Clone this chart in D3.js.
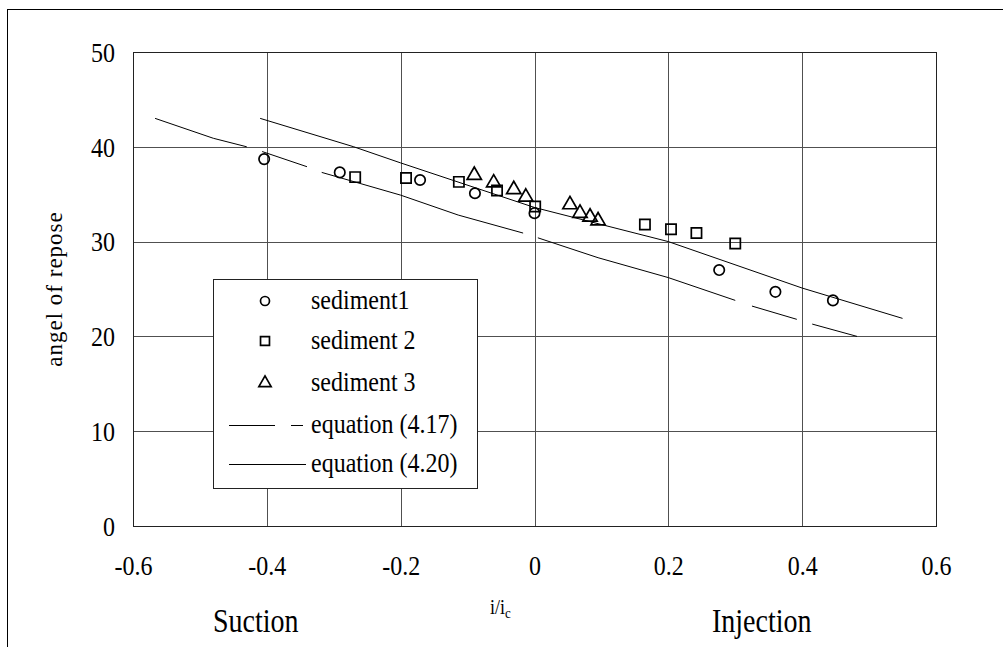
<!DOCTYPE html>
<html><head><meta charset="utf-8">
<script src="https://cdn.jsdelivr.net/npm/d3@7"></script>
<style>
body{margin:0;background:#fff}
svg{display:block}
text{font-family:"Liberation Serif","Times New Roman",serif;fill:#000}
</style>
</head><body><svg id="c" width="1003" height="647"></svg>
<script>
// ---- data ----
const sed1X = [-0.404, -0.291, -0.171, -0.089, 0.000, 0.276, 0.360, 0.446];
const sed1Y = [38.7, 37.3, 36.5, 35.1, 33.0, 27.0, 24.7, 23.8];
const sed2X = [-0.268, -0.192, -0.113, -0.056, 0.001, 0.165, 0.204, 0.242, 0.300];
const sed2Y = [36.8, 36.7, 36.3, 35.4, 33.7, 31.8, 31.3, 30.9, 29.8];
const sed3X = [-0.090, -0.061, -0.031, -0.013, 0.053, 0.068, 0.083, 0.095];
const sed3Y = [37.0, 36.2, 35.5, 34.7, 33.9, 33.0, 32.6, 32.2];
// equation (4.17) – broken line (null marks a break in the stroke)
const eq417X = [-0.567, -0.480, -0.430, null, -0.407, -0.340, null, -0.318, -0.200, -0.114, -0.017, null, 0.005, 0.095, 0.200, 0.300, null, 0.325, 0.392, null, 0.415, 0.482];
const eq417Y = [43.0, 40.9, 40.0, null, 39.5, 37.9, null, 37.3, 34.9, 32.8, 30.9, null, 30.4, 28.3, 26.2, 23.8, null, 23.2, 21.8, null, 21.3, 20.0];
// equation (4.20) – solid line
const eq420X = [-0.410, -0.270, -0.200, 0.000, 0.200, 0.400, 0.550];
const eq420Y = [43.0, 40.0, 38.3, 33.6, 30.0, 25.1, 21.9];
const xTicks = [-0.6, -0.4, -0.2, 0, 0.2, 0.4, 0.6];
const xTickLabels = ["-0.6", "-0.4", "-0.2", "0", "0.2", "0.4", "0.6"];
const yTicks = [0, 10, 20, 30, 40, 50];
const yTickLabels = ["0", "10", "20", "30", "40", "50"];
const legendLabels = ["sediment1", "sediment 2", "sediment 3", "equation (4.17)", "equation (4.20)"];

// ---- drawing ----
const SY = 1.18; // vertical glyph stretch of the original
const svg = d3.select("#c");
const x = d3.scaleLinear().domain([-0.6, 0.6]).range([133, 936]);
const y = d3.scaleLinear().domain([0, 50]).range([526, 52]);

// outer frame
svg.append("rect").attr("x", 7.5).attr("y", 9.5).attr("width", 1010).attr("height", 660)
  .attr("fill", "none").attr("stroke", "#000").attr("stroke-width", 1);

const grid = svg.append("g");
grid.selectAll("line.v").data(xTicks).join("line")
  .attr("x1", d => Math.round(x(d)) + 0.5).attr("x2", d => Math.round(x(d)) + 0.5)
  .attr("y1", y(50)).attr("y2", y(0)).attr("stroke", "#505050").attr("stroke-width", 1);
grid.selectAll("line.h").data(yTicks).join("line")
  .attr("y1", d => Math.round(y(d)) + 0.5).attr("y2", d => Math.round(y(d)) + 0.5)
  .attr("x1", x(-0.6)).attr("x2", x(0.6)).attr("stroke", "#505050").attr("stroke-width", 1);

// plot border
svg.append("rect").attr("x", x(-0.6) + 0.5).attr("y", y(50) + 0.5)
  .attr("width", x(0.6) - x(-0.6)).attr("height", y(0) - y(50))
  .attr("fill", "none").attr("stroke", "#222").attr("stroke-width", 1);

// axes
const xAxis = d3.axisBottom(x).tickValues(xTicks).tickSize(0).tickPadding(0)
  .tickFormat((d, i) => xTickLabels[i]);
const gx = svg.append("g").attr("transform", `translate(0,${y(0)})`).call(xAxis);
gx.select(".domain").remove();
gx.selectAll("text").attr("font-size", 24).attr("dy", null).attr("y", 0)
  .attr("transform", `translate(0,49) scale(1,${SY})`)
  .style("font-family", '"Liberation Serif",serif');

const yAxis = d3.axisLeft(y).tickValues(yTicks).tickSize(0).tickPadding(0)
  .tickFormat((d, i) => yTickLabels[i]);
const gy = svg.append("g").attr("transform", `translate(115,0)`).call(yAxis);
gy.select(".domain").remove();
gy.selectAll("text").attr("font-size", 24).attr("x", 0).attr("dy", "0.33em")
  .attr("transform", `scale(1,${SY})`)
  .style("font-family", '"Liberation Serif",serif');

function stext(px, py, size, str) {
  return svg.append("text").attr("transform", `translate(${px},${py}) scale(1,${SY})`)
    .attr("font-size", size).text(str);
}

// axis titles
svg.append("text").attr("transform", `translate(62,${(y(0) + y(50)) / 2}) rotate(-90)`)
  .attr("text-anchor", "middle").attr("font-size", 23).attr("letter-spacing", 1).text("angel of repose");
stext(213, 632, 28, "Suction");
stext(712, 632, 28, "Injection");
const it = svg.append("text").attr("transform", `translate(490,614) scale(1,${SY})`).attr("font-size", 18);
it.append("tspan").text("i/i");
it.append("tspan").attr("font-size", 13).attr("dy", 3).text("c");

// equation lines
const line = d3.line().defined(d => d[0] !== null).x(d => x(d[0])).y(d => y(d[1]));
svg.append("path").datum(eq417X.map((v, i) => [v, eq417Y[i]]))
  .attr("d", line).attr("fill", "none").attr("stroke", "#000").attr("stroke-width", 1);
svg.append("path").datum(eq420X.map((v, i) => [v, eq420Y[i]]))
  .attr("d", line).attr("fill", "none").attr("stroke", "#000").attr("stroke-width", 1);

// markers
const mk = svg.append("g").attr("fill", "none").attr("stroke", "#000").attr("stroke-width", 1.7);
mk.selectAll("circle").data(sed1X.map((v, i) => [v, sed1Y[i]])).join("circle")
  .attr("cx", d => x(d[0])).attr("cy", d => y(d[1])).attr("r", 5.2);
const sq = d3.symbol().type(d3.symbolSquare).size(105);
mk.selectAll("path.sq").data(sed2X.map((v, i) => [v, sed2Y[i]])).join("path").attr("class", "sq")
  .attr("d", sq).attr("transform", d => `translate(${x(d[0])},${y(d[1])})`);
const tri = d3.symbol().type(d3.symbolTriangle).size(88);
mk.selectAll("path.tr").data(sed3X.map((v, i) => [v, sed3Y[i]])).join("path").attr("class", "tr")
  .attr("d", tri).attr("transform", d => `translate(${x(d[0])},${y(d[1])})`);

// legend
const lg = svg.append("g");
lg.append("rect").attr("x", 213.5).attr("y", 279.5).attr("width", 264).attr("height", 209)
  .attr("fill", "#fff").attr("stroke", "#222").attr("stroke-width", 1);
const rowsY = [301, 341, 383, 425, 464];
lg.selectAll("text").data(legendLabels).join("text")
  .attr("transform", (d, i) => `translate(311,${rowsY[i] + 8}) scale(1,${SY})`)
  .attr("font-size", 24).text(d => d);
const lm = lg.append("g").attr("fill", "none").attr("stroke", "#000").attr("stroke-width", 1.7);
lm.append("circle").attr("cx", 265).attr("cy", rowsY[0]).attr("r", 4.5);
lm.append("path").attr("d", d3.symbol().type(d3.symbolSquare).size(80)).attr("transform", `translate(265,${rowsY[1]})`);
lm.append("path").attr("d", d3.symbol().type(d3.symbolTriangle).size(65)).attr("transform", `translate(265,${rowsY[2]})`);
lg.append("line").attr("x1", 229).attr("x2", 303).attr("y1", rowsY[3] + 0.5).attr("y2", rowsY[3] + 0.5)
  .attr("stroke", "#000").attr("stroke-width", 1).attr("stroke-dasharray", "46,16,12");
lg.append("line").attr("x1", 229).attr("x2", 306).attr("y1", rowsY[4] + 0.5).attr("y2", rowsY[4] + 0.5)
  .attr("stroke", "#000").attr("stroke-width", 1);
</script>
</body></html>
